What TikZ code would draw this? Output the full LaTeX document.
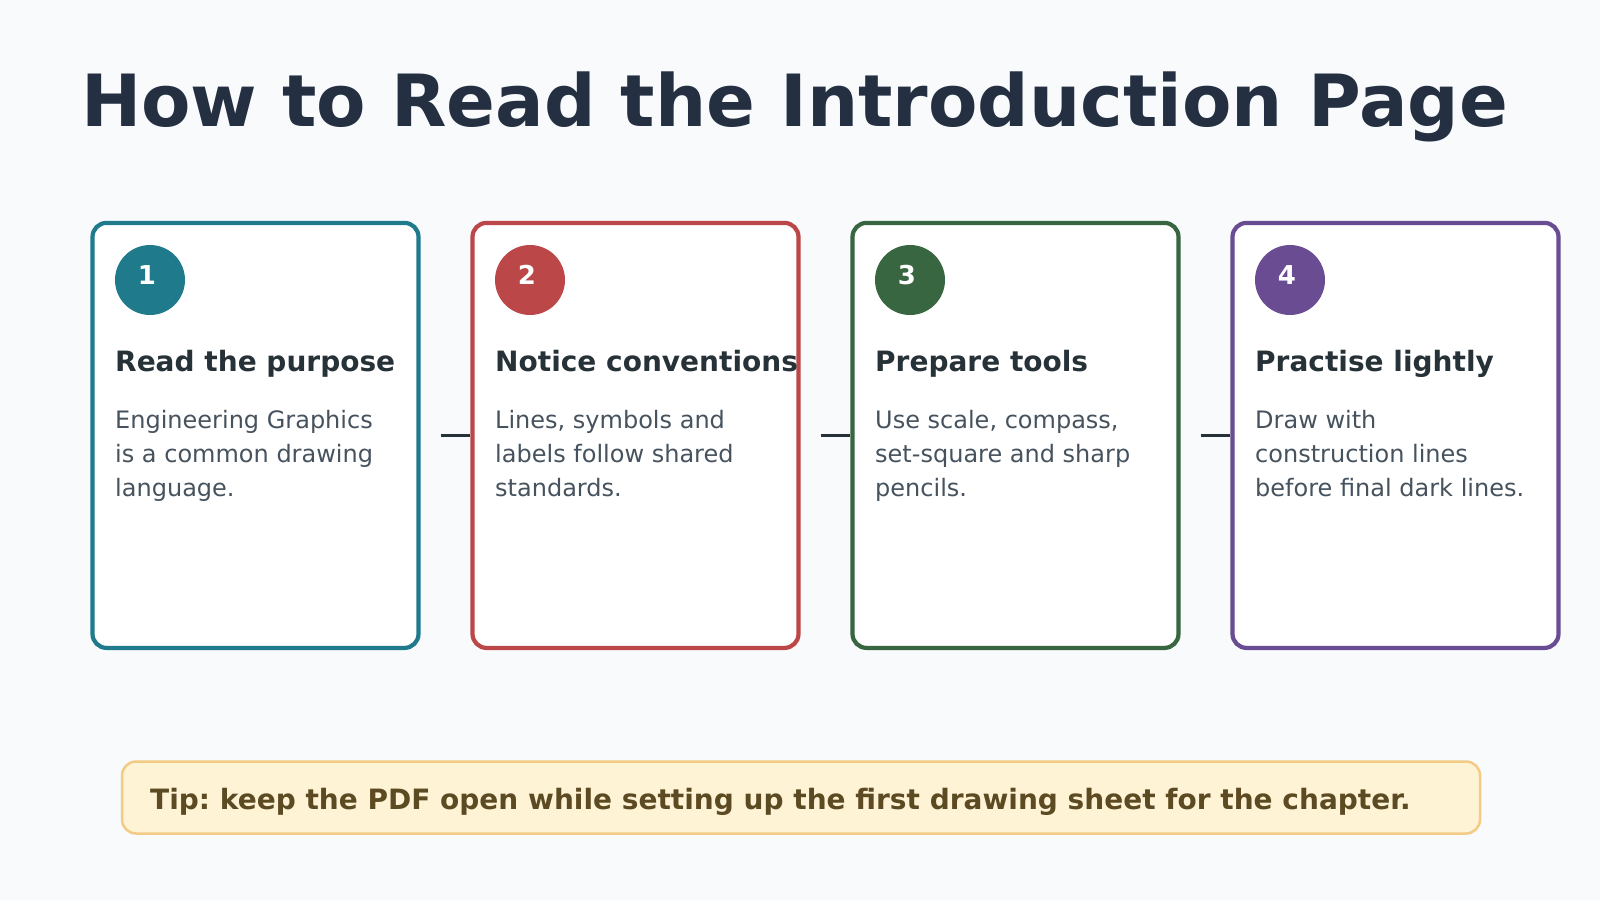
\documentclass[tikz,border=0pt]{standalone}
\usepackage{fontspec}
\setmainfont{DejaVu Sans}
\frenchspacing
\usetikzlibrary{positioning,calc}
\definecolor{bgc}{HTML}{F8FAFC}
\definecolor{titlec}{HTML}{243042}
\definecolor{headc}{HTML}{263238}
\definecolor{bodyc}{HTML}{46535E}
\definecolor{cteal}{HTML}{1F7A8C}
\definecolor{cred}{HTML}{BC4749}
\definecolor{cgreen}{HTML}{386641}
\definecolor{cpurple}{HTML}{6A4C93}
\definecolor{tipfill}{HTML}{FFF3D6}
\definecolor{tipdraw}{HTML}{F2CB85}
\definecolor{tiptext}{HTML}{5C4A22}
\tikzset{
  card/.style={draw=#1, line width=4.2pt, fill=white, rounded corners=14pt, minimum width=326pt, minimum height=425pt, inner sep=0pt},
  badge/.style={circle, fill=#1, minimum size=70pt, inner sep=0pt},
  badgenum/.style={anchor=base, text=white, font=\fontsize{26}{30}\selectfont\bfseries, inner sep=0pt},
  cardhead/.style={anchor=base west, text=headc, font=\fontsize{28}{33}\selectfont\bfseries, inner sep=0pt},
  cardbody/.style={anchor=base west, text=bodyc, font=\fontsize{24}{33.8}\selectfont, inner sep=0pt, align=left},
  link/.style={draw=headc, line width=3.8pt},
}
\begin{document}
\begin{tikzpicture}[x=1pt,y=-1pt]
\fill[bgc] (0,0) rectangle (1600,900);
\useasboundingbox (0,0) rectangle (1600,900);
\node[anchor=base west, text=titlec, font=\fontsize{72}{80}\selectfont\bfseries, inner sep=0pt] (title) at (81,126.7) {How to Read the Introduction Page};
% cards
\node[card=cteal] (c1) at (255.5,435.4) {};
\node[card=cred] (c2) at (635.5,435.4) {};
\node[card=cgreen] (c3) at (1015.5,435.4) {};
\node[card=cpurple] (c4) at (1395.5,435.4) {};
% badges
\node[badge=cteal] (n1) at (150,280) {};
\node[badge=cred] (n2) at (530,280) {};
\node[badge=cgreen] (n3) at (910,280) {};
\node[badge=cpurple] (n4) at (1290,280) {};
\node[badgenum] (t1) at (147,284) {1};
\node[badgenum] (t2) at (527,284) {2};
\node[badgenum] (t3) at (907,284) {3};
\node[badgenum] (t4) at (1287,284) {4};
% headings
\node[cardhead] (h1) at (115,371.7) {Read the purpose};
\node[cardhead] (h2) at (495,371.7) {Notice conventions};
\node[cardhead] (h3) at (875,371.7) {Prepare tools};
\node[cardhead] (h4) at (1255,371.7) {Practise lightly};
% bodies (base anchor = baseline of last line)
\node[cardbody] (d1) at (115,496) {Engineering Graphics\\is a common drawing\\language.};
\node[cardbody] (d2) at (495,496) {Lines, symbols and\\labels follow shared\\standards.};
\node[cardbody] (d3) at (875,496) {Use scale, compass,\\set-square and sharp\\pencils.};
\node[cardbody] (d4) at (1255,496) {Draw with\\construction lines\\before final dark lines.};
% connectors
\draw[link] ([xshift=20pt]c1.east) -- (c2.west);
\draw[link] ([xshift=20pt]c2.east) -- (c3.west);
\draw[link] ([xshift=20pt]c3.east) -- (c4.west);
% tip
\node[draw=tipdraw, fill=tipfill, line width=2.5pt, rounded corners=14pt, minimum width=1358pt, minimum height=72pt, inner sep=0pt] (tip) at (801,797.5) {};
\node[anchor=base west, text=tiptext, font=\fontsize{28}{33}\selectfont\bfseries, inner sep=0pt] (tiptxt) at (150,809) {Tip: keep the PDF open while setting up the first drawing sheet for the chapter.};
\end{tikzpicture}
\end{document}
